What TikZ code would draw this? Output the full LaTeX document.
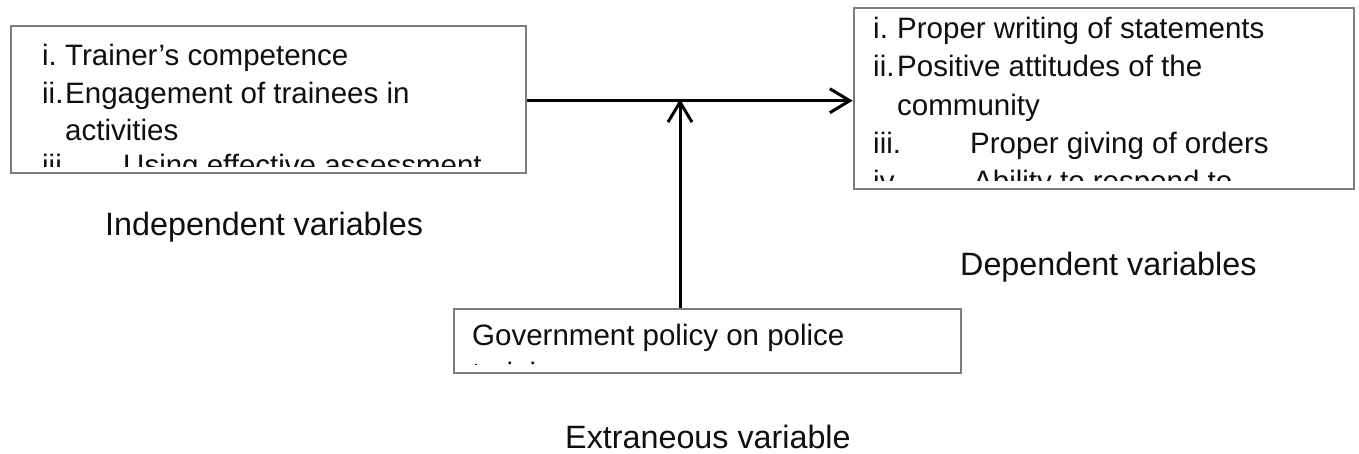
\documentclass[tikz,border=0pt]{standalone}
\usepackage{fontspec}
\setmainfont{Liberation Sans}
\usetikzlibrary{arrows.meta}
\definecolor{boxgray}{RGB}{125,125,125}
\definecolor{ink}{RGB}{15,15,15}
\tikzset{
  varbox/.style={draw=boxgray, line width=2pt, fill=white, rectangle, inner sep=0pt, anchor=north west},
  itemtxt/.style={anchor=base west, inner sep=0pt, text=ink, font=\fontsize{29.5}{36}\selectfont},
  labtxt/.style={anchor=base west, inner sep=0pt, text=ink, font=\fontsize{32.3}{38}\selectfont},
  arr/.style={line width=3pt, -{Straight Barb[length=20pt, width=24pt, line width=3pt]}, draw=black}
}
\begin{document}
\begin{tikzpicture}[x=1pt, y=-1pt]
\useasboundingbox (0,0) rectangle (1359,453);
% boxes
\node[varbox, minimum width=515pt, minimum height=147pt] (ind) at (10,25) {};
\node[varbox, minimum width=500pt, minimum height=181pt] (dep) at (852.7,7) {};
\node[varbox, minimum width=507pt, minimum height=64pt] (ext) at (452.7,307.7) {};
% left box text
\begin{scope}
\clip (12,27) rectangle (523,166);
\node[itemtxt] (l1a) at (42,65.8) {i.};
\node[itemtxt] (l1b) at (65,65.8) {Trainer’s competence};
\node[itemtxt] (l2a) at (42,103) {ii.};
\node[itemtxt] (l2b) at (65,103) {Engagement of trainees in};
\node[itemtxt] (l3b) at (65,140) {activities};
\node[itemtxt] (l4a) at (42,175.5) {iii.};
\node[itemtxt] (l4b) at (123,175.5) {Using effective assessment};
\end{scope}
% right box text
\begin{scope}
\clip (854,9) rectangle (1351,180.5);
\node[itemtxt] (r1a) at (873,38.3) {i.};
\node[itemtxt] (r1b) at (897,38.3) {Proper writing of statements};
\node[itemtxt] (r2a) at (873,76.7) {ii.};
\node[itemtxt] (r2b) at (897,76.7) {Positive attitudes of the};
\node[itemtxt] (r3b) at (897,115) {community};
\node[itemtxt] (r4a) at (873,153) {iii.};
\node[itemtxt] (r4b) at (970,153) {Proper giving of orders};
\node[itemtxt] (r5a) at (873,191) {iv.};
\node[itemtxt] (r5b) at (973,191) {Ability to respond to};
\end{scope}
% bottom box text
\begin{scope}
\clip (455,310) rectangle (958,364.5);
\node[itemtxt] (e1) at (472,345) {Government policy on police};
\node[itemtxt] (e2) at (472,383.5) {training};
\end{scope}
% labels
\node[labtxt] (indlab) at (105,235) {Independent variables};
\node[labtxt] (deplab) at (960,275) {Dependent variables};
\node[labtxt] (extlab) at (565,448) {Extraneous variable};
% connectors
\coordinate (mid) at (680,100.7);
\draw[arr] (ind.east |- mid) -- (dep.west |- mid);
\draw[arr, shorten >=-1.5pt] (ext.north -| mid) -- (mid);
\end{tikzpicture}
\end{document}
